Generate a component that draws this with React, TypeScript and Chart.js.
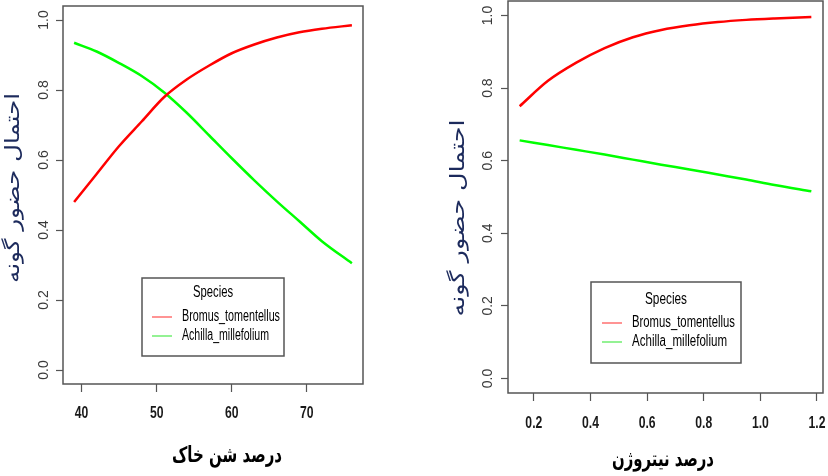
import React, { useEffect, useRef } from "react";
import { Chart, registerables } from "chart.js";

Chart.register(...registerables);

// ---------- data ----------
const probTicks = [0, 0.2, 0.4, 0.6, 0.8, 1.0];
const probTickLabels = ["0.0", "0.2", "0.4", "0.6", "0.8", "1.0"];

const sandX = [39, 42, 45, 48, 51, 54, 57, 60, 63, 66, 69, 72, 76];
const sandBromus = [0.48, 0.56, 0.64, 0.71, 0.78, 0.83, 0.87, 0.905, 0.93, 0.95, 0.965, 0.975, 0.985];
const sandAchilla = [0.935, 0.91, 0.877, 0.84, 0.793, 0.735, 0.67, 0.605, 0.542, 0.482, 0.425, 0.368, 0.305];
const sandTicks = [40, 50, 60, 70];
const sandTickLabels = ["40", "50", "60", "70"];

const nitroX = [0.15, 0.25, 0.35, 0.45, 0.55, 0.65, 0.75, 0.85, 0.95, 1.05, 1.18];
const nitroBromus = [0.75, 0.82, 0.87, 0.91, 0.94, 0.96, 0.973, 0.982, 0.988, 0.992, 0.996];
const nitroAchilla = [0.656, 0.643, 0.63, 0.617, 0.603, 0.589, 0.576, 0.562, 0.548, 0.533, 0.516];
const nitroTicks = [0.2, 0.4, 0.6, 0.8, 1.0, 1.2];
const nitroTickLabels = ["0.2", "0.4", "0.6", "0.8", "1.0", "1.2"];

const speciesNames = ["Bromus_tomentellus", "Achilla_millefolium"];
const speciesColors = ["#ff0000", "#00ff00"];
const legendSampleColors = ["#ff7070", "#70ee70"];
const legendTitle = "Species";
const yTitle = "احتمال حضور گونه";
const sandTitle = "درصد شن خاک";
const nitroTitle = "درصد نیتروژن";

// ---------- layout (positions/styles only) ----------
type PanelLayout = {
  left: number;
  width: number;
  height: number;
  padTop: number;
  padRight: number;
  yAxisW: number;
  xAxisH: number;
  yTickX: number;
  xTickY: number;
  yTitle: { x: number; y: number; w: number };
  xTitle: { x: number; y: number; w: number };
  legend: {
    x: number; y: number; w: number; h: number;
    titleX: number; titleY: number; titleW: number;
    lineX1: number; lineX2: number; rowY: number[];
    textX: number; textW: number[];
  };
};

const leftLayout: PanelLayout = {
  left: 0, width: 414, height: 476,
  padTop: 6, padRight: 51, yAxisW: 63, xAxisH: 92,
  yTickX: 44, xTickY: 414,
  yTitle: { x: 14, y: 188, w: 190 },
  xTitle: { x: 227, y: 456, w: 110 },
  legend: {
    x: 142, y: 278, w: 142, h: 78,
    titleX: 213, titleY: 293, titleW: 40,
    lineX1: 152, lineX2: 172, rowY: [317, 336],
    textX: 182, textW: [98, 87],
  },
};

const rightLayout: PanelLayout = {
  left: 414, width: 414, height: 476,
  padTop: 1, padRight: 5, yAxisW: 94, xAxisH: 83,
  yTickX: 74, xTickY: 424,
  yTitle: { x: 45, y: 218, w: 197 },
  xTitle: { x: 249, y: 460, w: 102 },
  legend: {
    x: 177, y: 282, w: 150, h: 81,
    titleX: 252, titleY: 300, titleW: 42,
    lineX1: 188, lineX2: 208, rowY: [323, 342],
    textX: 218, textW: [103, 95],
  },
};

function drawText(
  ctx: CanvasRenderingContext2D,
  text: string,
  x: number,
  y: number,
  font: string,
  color: string,
  align: CanvasTextAlign,
  opts: { targetW?: number; sx?: number; rot?: number } = {}
) {
  ctx.save();
  ctx.font = font;
  ctx.fillStyle = color;
  ctx.textBaseline = "middle";
  ctx.textAlign = align;
  const w = ctx.measureText(text).width;
  const sx = opts.targetW ? opts.targetW / w : opts.sx ?? 1;
  ctx.translate(x, y);
  if (opts.rot) ctx.rotate(opts.rot);
  ctx.scale(sx, 1);
  ctx.fillText(text, 0, 0);
  ctx.restore();
}

function makeConfig(
  L: PanelLayout,
  xs: number[],
  bromus: number[],
  achilla: number[],
  xMin: number,
  xMax: number,
  xTicks: number[],
  xTickLabels: string[],
  xTitleText: string
): any {
  const overlay = {
    id: "overlay",
    afterDraw(chart: any) {
      const ctx: CanvasRenderingContext2D = chart.ctx;
      const a = chart.chartArea;
      const xs_ = chart.scales.x;
      const ys_ = chart.scales.y;
      // box
      ctx.save();
      ctx.strokeStyle = "#555";
      ctx.lineWidth = 1.5;
      ctx.strokeRect(a.left, a.top, a.right - a.left, a.bottom - a.top);
      ctx.restore();
      // y tick labels (rotated)
      probTicks.forEach((v, i) => {
        drawText(ctx, probTickLabels[i], L.yTickX, ys_.getPixelForValue(v), "14px 'Liberation Sans', Arial", "#3a3a3a", "center", { rot: -Math.PI / 2 });
      });
      // x tick labels
      xTicks.forEach((v, i) => {
        drawText(ctx, xTickLabels[i], xs_.getPixelForValue(v), L.xTickY, "bold 16px 'Liberation Sans', Arial", "#1a1a1a", "center", { sx: 0.76 });
      });
      // titles
      drawText(ctx, yTitle, L.yTitle.x, L.yTitle.y, "20px 'DejaVu Sans'", "#1c2a5c", "center", { rot: -Math.PI / 2, targetW: L.yTitle.w });
      drawText(ctx, xTitleText, L.xTitle.x, L.xTitle.y, "bold 22px 'DejaVu Sans'", "#000", "center", { targetW: L.xTitle.w });
      // legend
      const g = L.legend;
      ctx.save();
      ctx.fillStyle = "#fff";
      ctx.fillRect(g.x, g.y, g.w, g.h);
      ctx.strokeStyle = "#555";
      ctx.lineWidth = 1.5;
      ctx.strokeRect(g.x, g.y, g.w, g.h);
      ctx.restore();
      drawText(ctx, legendTitle, g.titleX, g.titleY, "16px 'Liberation Sans', Arial", "#000", "center", { targetW: g.titleW });
      speciesNames.forEach((name, i) => {
        ctx.save();
        ctx.strokeStyle = legendSampleColors[i];
        ctx.lineWidth = 1.5;
        ctx.beginPath();
        ctx.moveTo(g.lineX1, g.rowY[i]);
        ctx.lineTo(g.lineX2, g.rowY[i]);
        ctx.stroke();
        ctx.restore();
        drawText(ctx, name, g.textX, g.rowY[i], "16px 'Liberation Sans', Arial", "#000", "left", { targetW: g.textW[i] });
      });
    },
  };

  const gridOpts = {
    display: true,
    drawOnChartArea: false,
    drawTicks: true,
    tickLength: 7,
    tickColor: "#555",
    tickWidth: 1.2,
  };

  return {
    type: "line",
    data: {
      datasets: [
        {
          label: speciesNames[0],
          data: xs.map((x, i) => ({ x, y: bromus[i] })),
          borderColor: speciesColors[0],
          borderWidth: 2.5,
          pointRadius: 0,
          cubicInterpolationMode: "monotone",
          fill: false,
        },
        {
          label: speciesNames[1],
          data: xs.map((x, i) => ({ x, y: achilla[i] })),
          borderColor: speciesColors[1],
          borderWidth: 2.5,
          pointRadius: 0,
          cubicInterpolationMode: "monotone",
          fill: false,
        },
      ],
    },
    options: {
      responsive: false,
      animation: false,
      events: [],
      layout: { padding: { top: L.padTop, right: L.padRight, left: 0, bottom: 0 } },
      plugins: { legend: { display: false }, tooltip: { enabled: false }, title: { display: false } },
      scales: {
        x: {
          type: "linear",
          min: xMin,
          max: xMax,
          afterBuildTicks: (s: any) => { s.ticks = xTicks.map((v) => ({ value: v })); },
          afterFit: (s: any) => { s.height = L.xAxisH; },
          ticks: { display: false },
          grid: { ...gridOpts, tickLength: 8 },
          border: { display: false },
        },
        y: {
          type: "linear",
          min: -0.04,
          max: 1.04,
          afterBuildTicks: (s: any) => { s.ticks = probTicks.map((v) => ({ value: v })); },
          afterFit: (s: any) => { s.width = L.yAxisW; },
          ticks: { display: false },
          grid: gridOpts,
          border: { display: false },
        },
      },
    },
    plugins: [overlay],
  };
}

function Panel(props: { layout: PanelLayout; config: any }) {
  const ref = useRef<HTMLCanvasElement | null>(null);
  useEffect(() => {
    if (!ref.current) return;
    const chart = new Chart(ref.current, props.config);
    return () => chart.destroy();
  }, []);
  const L = props.layout;
  return (
    <canvas
      ref={ref}
      width={L.width}
      height={L.height}
      style={{ position: "absolute", left: L.left, top: 0, width: L.width, height: L.height }}
    />
  );
}

export default function App() {
  const leftCfg = makeConfig(leftLayout, sandX, sandBromus, sandAchilla, 37.52, 77.48, sandTicks, sandTickLabels, sandTitle);
  const rightCfg = makeConfig(rightLayout, nitroX, nitroBromus, nitroAchilla, 0.1088, 1.2212, nitroTicks, nitroTickLabels, nitroTitle);
  return (
    <div style={{ position: "fixed", left: 0, top: 0, width: 828, height: 476, background: "#fff", overflow: "hidden" }}>
      <Panel layout={leftLayout} config={leftCfg} />
      <Panel layout={rightLayout} config={rightCfg} />
    </div>
  );
}
